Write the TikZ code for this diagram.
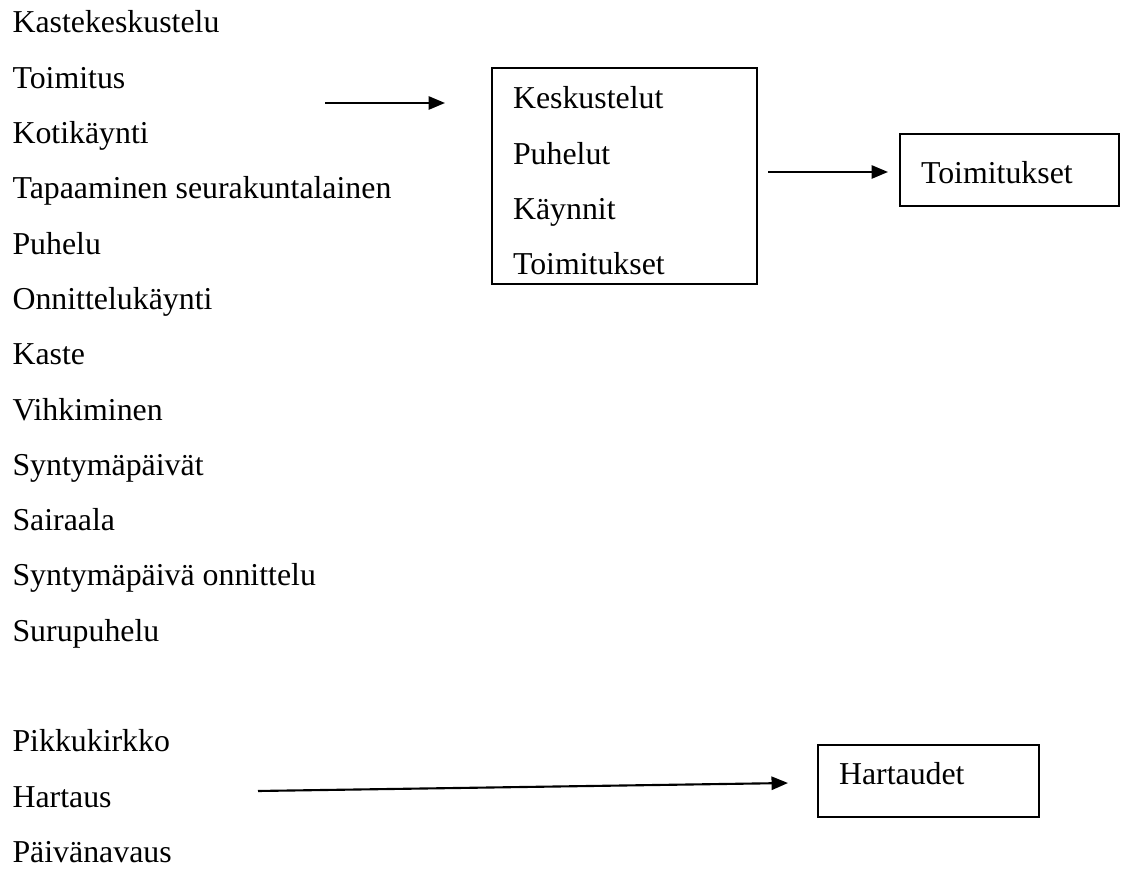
\documentclass[tikz,border=0pt]{standalone}
\usepackage{fontspec}
\setmainfont{Liberation Serif}
\usetikzlibrary{arrows.meta,positioning}
\tikzset{
  item/.style={anchor=base west, inner sep=0pt, font=\fontsize{12}{20.8}\selectfont},
  box/.style={draw=black, line width=0.8pt, anchor=north west, inner xsep=7.9pt, inner ysep=0pt, align=left, font=\fontsize{12}{20.8}\selectfont},
  arrow/.style={-{Triangle[length=6.2pt,width=5pt]}, line width=0.8pt, draw=black}
}

\begin{document}
\begin{tikzpicture}[x=0.3768pt, y=-0.3768pt]
  \useasboundingbox (0,0) rectangle (1121,870);

  % left column
  \node[item] (kastekesk) at (12,33.0) {Kastekeskustelu};
  \node[item] (toimitus) at (12,88.3) {Toimitus};
  \node[item] (kotikaynti) at (12,143.6) {Kotikäynti};
  \node[item] (tapaaminen) at (12,198.9) {Tapaaminen seurakuntalainen};
  \node[item] (puhelu) at (12,254.2) {Puhelu};
  \node[item] (onnittelu) at (12,309.5) {Onnittelukäynti};
  \node[item] (kaste) at (12,364.8) {Kaste};
  \node[item] (vihkiminen) at (12,420.1) {Vihkiminen};
  \node[item] (syntpaivat) at (12,475.4) {Syntymäpäivät};
  \node[item] (sairaala) at (12,530.7) {Sairaala};
  \node[item] (syntonn) at (12,586.0) {Syntymäpäivä onnittelu};
  \node[item] (surupuhelu) at (12,641.3) {Surupuhelu};
  \node[item] (pikkukirkko) at (12,751.9) {Pikkukirkko};
  \node[item] (hartaus) at (12,807.2) {Hartaus};
  \node[item] (paivanavaus) at (12,862.5) {Päivänavaus};

  % boxes
  \node[box, text width=84pt, text height=15.4pt, text depth=65.9pt] (luokat) at (491,67) {Keskustelut\\Puhelut\\Käynnit\\Toimitukset};
  \node[box, text width=66.7pt, text height=18.5pt, text depth=8.7pt] (toimitukset) at (899,133) {Toimitukset};
  \node[box, text width=67.4pt, text height=14.7pt, text depth=12.4pt] (hartaudet) at (817,744) {Hartaudet};

  % arrow ends
  \coordinate (luokatin) at (325,103);
  \coordinate (luokatout) at (768,172);
  \coordinate (hartausin) at (258,791);

  \draw[arrow] (luokatin) -- ([xshift=-46*0.3768pt]luokat.west |- luokatin);
  \draw[arrow] (luokatout) -- ([xshift=-11*0.3768pt]toimitukset.west |- luokatout);
  \draw[arrow] (hartausin) -- ([xshift=-29*0.3768pt, yshift=-2*0.3768pt]hartaudet.west);
\end{tikzpicture}
\end{document}
